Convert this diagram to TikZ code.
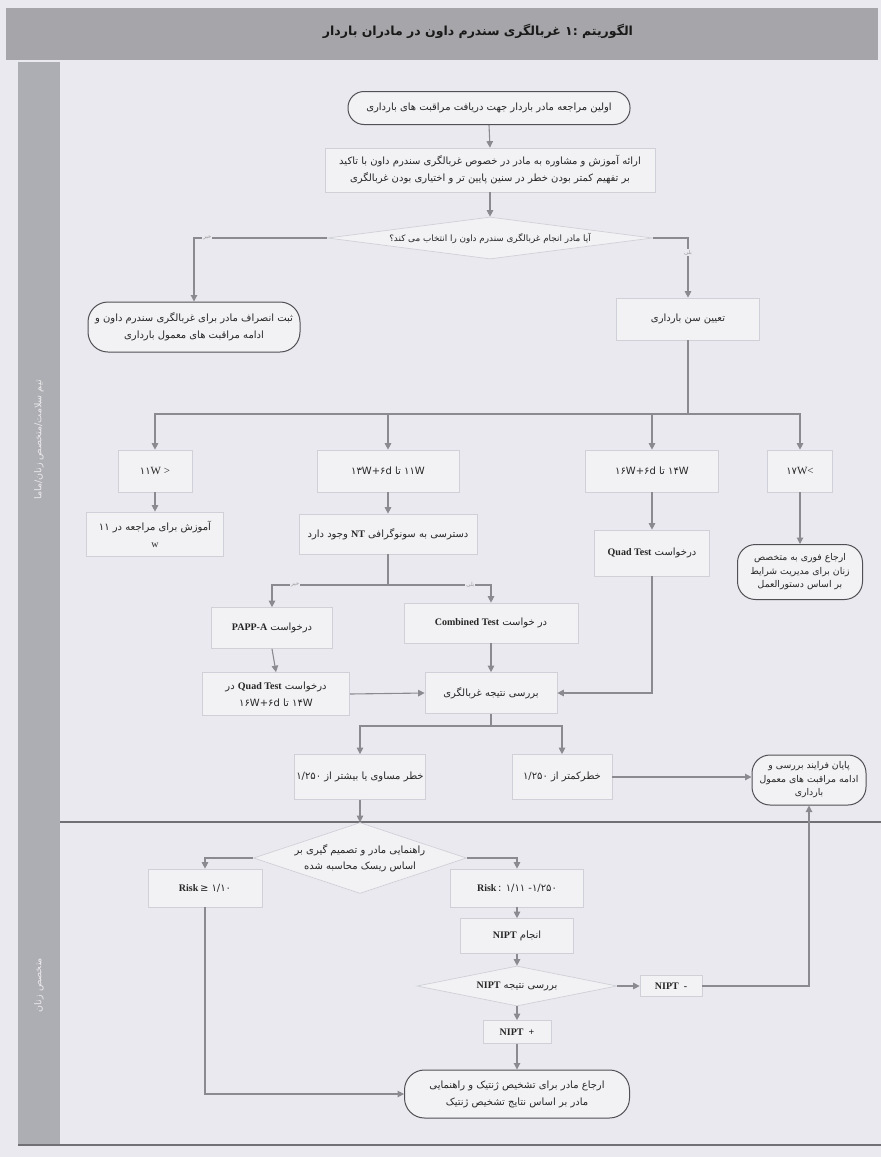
\documentclass[tikz,border=0pt]{standalone}
\usepackage{fontspec}
\setmainfont{Liberation Serif}
\newfontfamily\farsi[Script=Arabic]{DejaVu Sans}
\newfontfamily\symf{DejaVu Sans}
\TeXXeTstate=1
\usetikzlibrary{shapes.geometric,arrows.meta}
\newcommand\fatext[1]{\beginR #1\endR}
\newcommand\pnum[1]{\beginL #1\endL{}}
\newcommand\latw[1]{\beginL{\rmfamily\bfseries #1}\endL{}}
\definecolor{bg}{HTML}{E9E9EF}
\definecolor{boxfill}{HTML}{F2F2F5}
\definecolor{boxline}{HTML}{D0D0D8}
\definecolor{rline}{HTML}{505055}
\definecolor{arrc}{HTML}{8A8A90}
\definecolor{txt}{HTML}{262626}
\definecolor{side}{HTML}{ADADB4}
\definecolor{titlebar}{HTML}{A6A6AA}
\definecolor{sepc}{HTML}{707075}
\tikzset{
  box/.style={rectangle, draw=boxline, fill=boxfill, line width=0.7pt, inner sep=1.5pt,
    align=center, text=txt, font=\farsi\fontsize{10}{17}\selectfont},
  rbox/.style={box, draw=rline, line width=1pt, rounded corners=#1},
  rbox/.default=14pt,
  dia/.style={diamond, draw=boxline, fill=boxfill, line width=0.7pt, inner sep=0pt,
    align=center, text=txt, font=\farsi\fontsize{10}{16}\selectfont},
  arr/.style={draw=arrc, line width=1.1pt, -{Triangle[width=6.5pt,length=6.5pt]}},
  ln/.style={draw=arrc, line width=1.1pt},
  lbl/.style={font=\farsi\fontsize{5.5}{6}\selectfont, text=black!40, fill=bg, inner sep=1pt},
  sepline/.style={draw=sepc, line width=1.1pt},
  threeline/.style={font=\farsi\fontsize{9.3}{13.5}\selectfont},
  nbox/.style={box, font=\rmfamily\bfseries\fontsize{10}{12}\selectfont},
}
\begin{document}
\begin{tikzpicture}[x=1pt,y=-1pt]
\useasboundingbox (0,0) rectangle (881,1157);
\fill[bg] (0,0) rectangle (881,1157);
\fill[titlebar] (6,8) rectangle (878,60);
\fill[side] (18,62) rectangle (60,1145);
\draw[sepline] (60,822) -- (881,822);
\draw[sepline] (18,1145) -- (881,1145);

\node[text=black!90, font=\farsi\bfseries\fontsize{12.5}{14}\selectfont] (title) at (478,31)
  {\fatext{الگوریتم \pnum{:۱} غربالگری سندرم داون در مادران باردار}};
\node[rotate=90, text=white!92!black, font=\farsi\fontsize{9.5}{11}\selectfont] (sidetop) at (39,440)
  {\fatext{تیم سلامت/متخصص زنان/ماما}};
\node[rotate=90, text=white!92!black, font=\farsi\fontsize{9.5}{11}\selectfont] (sidebot) at (39,985)
  {\fatext{متخصص زنان}};

% top part
\node[rbox=16pt, minimum width=282, minimum height=33] (start) at (489,108)
  {\fatext{اولین مراجعه مادر باردار جهت دریافت مراقبت های بارداری}};
\node[box, minimum width=330, minimum height=44] (couns) at (490,170)
  {\fatext{ارائه آموزش و مشاوره به مادر در خصوص غربالگری سندرم داون با تاکید}\\
   \fatext{بر تفهیم کمتر بودن خطر در سنین پایین تر و اختیاری بودن غربالگری}};
\node[dia, aspect=7.5, minimum width=325, minimum height=42, font=\farsi\fontsize{8.8}{12}\selectfont] (d1) at (490,238)
  {\fatext{آیا مادر انجام غربالگری سندرم داون را انتخاب می کند؟}};
\node[rbox=20pt, minimum width=212, minimum height=50] (refuse) at (194,327)
  {\fatext{ثبت انصراف مادر برای غربالگری سندرم داون و}\\
   \fatext{ادامه مراقبت های معمول بارداری}};
\node[box, minimum width=143, minimum height=42] (tayin) at (688,319)
  {\fatext{تعیین سن بارداری}};

% age row
\node[box, minimum width=74, minimum height=42] (a11) at (155,471)
  {{\symf ۱۱}{\rmfamily\fontsize{11}{12}\selectfont W >}};
\node[box, minimum width=142, minimum height=42] (a1113) at (388,471)
  {\fatext{\pnum{۱۱W} تا \pnum{۱۳W+۶d}}};
\node[box, minimum width=133, minimum height=42] (a1416) at (652,471)
  {\fatext{\pnum{۱۴W} تا \pnum{۱۶W+۶d}}};
\node[box, minimum width=65, minimum height=42] (a17) at (800,471)
  {{\symf ۱۷}{\rmfamily\fontsize{11}{12}\selectfont W<}};

\node[box, minimum width=137, minimum height=44] (edu) at (155,534)
  {\fatext{آموزش برای مراجعه در \pnum{۱۱}}\\ {\rmfamily w}};
\node[box, minimum width=178, minimum height=40] (nt) at (388,534)
  {\fatext{دسترسی به سونوگرافی \latw{NT} وجود دارد}};
\node[box, minimum width=115, minimum height=46] (quad1) at (652,553)
  {\fatext{درخواست \latw{Quad Test}}};
\node[rbox=18pt, threeline, minimum width=125, minimum height=55] (urgent) at (800,572)
  {\fatext{ارجاع فوری به متخصص}\\ \fatext{زنان برای مدیریت شرایط}\\ \fatext{بر اساس دستورالعمل}};

\coordinate (ntj) at (388,585);
\node[box, minimum width=121, minimum height=41] (papp) at (272,628)
  {\fatext{درخواست \latw{PAPP-A}}};
\node[box, minimum width=174, minimum height=40] (comb) at (491,623)
  {\fatext{در خواست \latw{Combined Test}}};
\node[box, minimum width=147, minimum height=43] (quad2) at (276,694)
  {\fatext{درخواست \latw{Quad Test} در}\\ \fatext{\pnum{۱۴W} تا \pnum{۱۶W+۶d}}};
\node[box, minimum width=132, minimum height=41] (review) at (491,693)
  {\fatext{بررسی نتیجه غربالگری}};

\coordinate (rj) at (491,726);
\node[box, minimum width=130, minimum height=45] (high) at (360,777)
  {\fatext{خطر مساوی یا بیشتر از \pnum{۱/۲۵۰}}};
\node[box, minimum width=100, minimum height=45] (low) at (562,777)
  {\fatext{خطرکمتر از \pnum{۱/۲۵۰}}};
\node[rbox=18pt, threeline, minimum width=114, minimum height=50] (endn) at (809,780)
  {\fatext{پایان فرایند بررسی و}\\ \fatext{ادامه مراقبت های معمول}\\ \fatext{بارداری}};

% bottom part
\node[dia, aspect=3, minimum width=200, minimum height=64] (d2) at (360,858)
  {\fatext{راهنمایی مادر و تصمیم گیری بر}\\ \fatext{اساس ریسک محاسبه شده}};
\node[box, minimum width=114, minimum height=38] (riskhi) at (205,888)
  {{\rmfamily\bfseries Risk}\,{\symf ≥} {\symf ۱/۱۰}};
\node[box, minimum width=133, minimum height=38] (riskmid) at (517,888)
  {{\rmfamily\bfseries Risk}\,{\symf :} {\symf ۱/۱۱} {\symf -۱/۲۵۰}};
\node[box, minimum width=113, minimum height=35] (nipt) at (517,936)
  {\fatext{انجام \latw{NIPT}}};
\node[dia, aspect=5, minimum width=200, minimum height=40] (d3) at (517,986)
  {\fatext{بررسی نتیجه \latw{NIPT}}};
\node[nbox, minimum width=62, minimum height=21] (neg) at (671,986)
  {NIPT\ \ -};
\node[nbox, minimum width=68, minimum height=23] (pos) at (517,1032)
  {NIPT\ \ +};
\node[rbox=20pt, minimum width=225, minimum height=48] (final) at (517,1094)
  {\fatext{ارجاع مادر برای تشخیص ژنتیک و راهنمایی}\\ \fatext{مادر بر اساس نتایج تشخیص ژنتیک}};

% connectors
\draw[arr] (start.south) -- (couns.north);
\draw[arr] (couns.south) -- (d1.north);
\draw[arr] (d1.west) -| node[lbl, pos=0.45] {\fatext{خیر}} (refuse.north);
\draw[arr] (d1.east) -| node[lbl, pos=0.62] {\fatext{بلی}} (tayin.north);
\coordinate (bus) at (688,414);
\draw[ln] (tayin.south) -- (bus);
\draw[arr] (bus) -| (a11.north);
\draw[arr] (bus) -| (a1113.north);
\draw[arr] (bus) -| (a1416.north);
\draw[arr] (bus) -| (a17.north);
\draw[arr] (a11.south) -- (edu.north);
\draw[arr] (a1113.south) -- (nt.north);
\draw[arr] (a1416.south) -- (quad1.north);
\draw[arr] (a17.south) -- (urgent.north);
\draw[ln] (nt.south) -- (ntj);
\draw[arr] (ntj) -| node[lbl, pos=0.4] {\fatext{خیر}} (papp.north);
\draw[arr] (ntj) -| node[lbl, pos=0.4] {\fatext{بلی}} (comb.north);
\draw[arr] (papp.south) -- (quad2.north);
\draw[arr] (comb.south) -- (review.north);
\draw[arr] (quad2.east) -- (review.west);
\draw[arr] (quad1.south) |- (review.east);
\draw[ln] (review.south) -- (rj);
\draw[arr] (rj) -| (high.north);
\draw[arr] (rj) -| (low.north);
\draw[arr] (low.east) -- (low.east -| endn.west);
\draw[arr] (high.south) -- (d2.north);
\draw[arr] (d2.west) -| (riskhi.north);
\draw[arr] (d2.east) -| (riskmid.north);
\draw[arr] (riskmid.south) -- (nipt.north);
\draw[arr] (nipt.south) -- (d3.north);
\draw[arr] (d3.east) -- (neg.west);
\draw[arr] (d3.south) -- (pos.north);
\draw[arr] (pos.south) -- (final.north);
\draw[arr] (neg.east) -| (endn.south);
\draw[arr] (riskhi.south) |- (final.west);
\end{tikzpicture}
\end{document}
